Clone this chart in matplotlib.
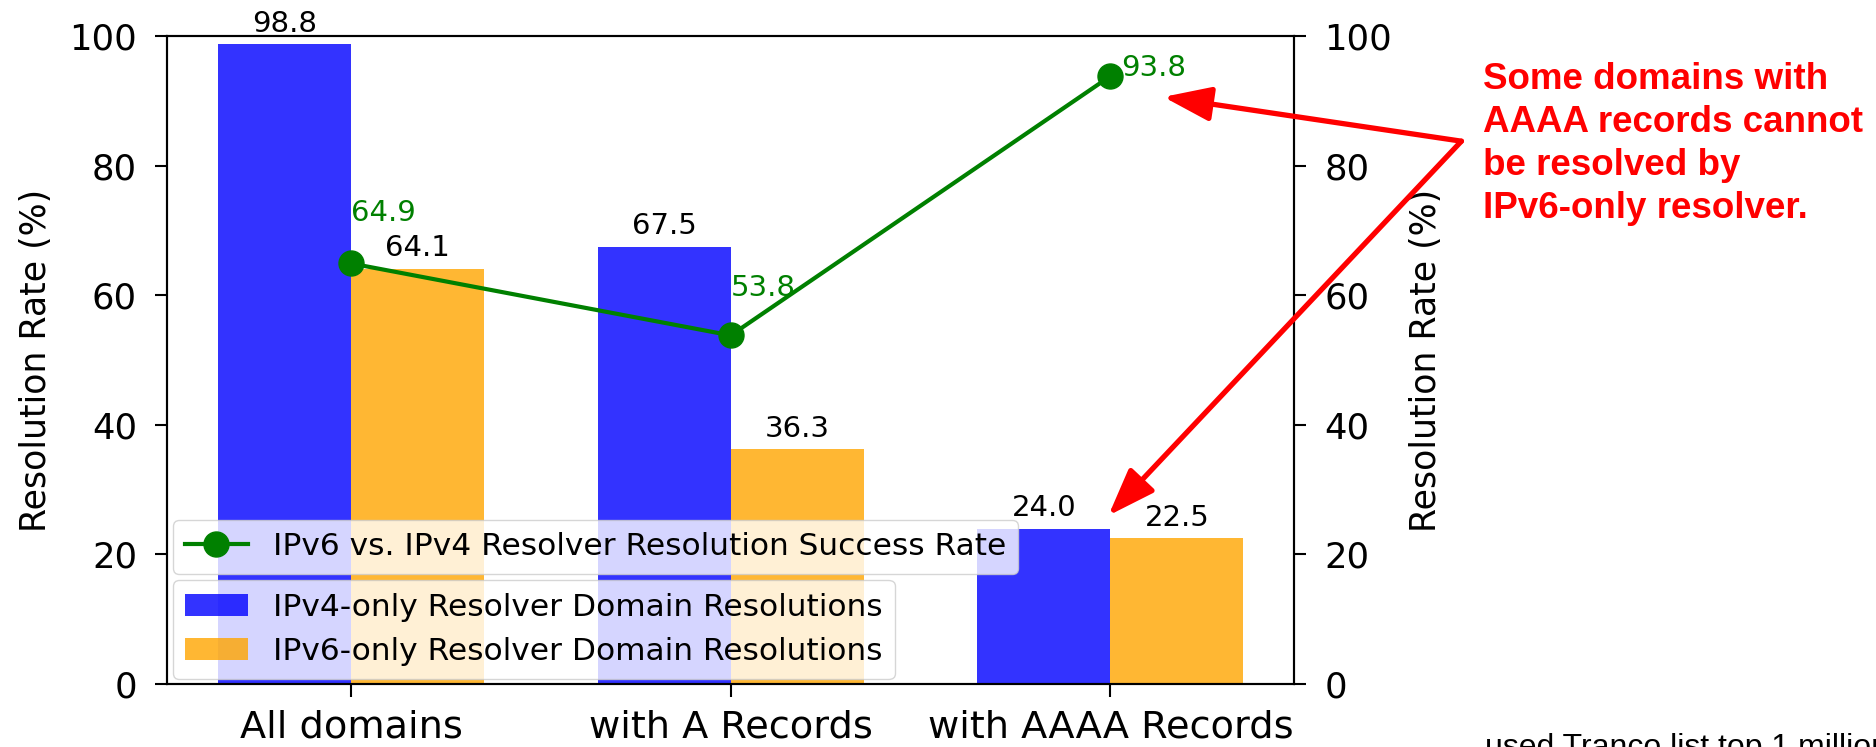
import matplotlib
matplotlib.use("Agg")
import matplotlib.pyplot as plt
import numpy as np

# values
categories = ["All domains", "with A Records", "with AAAA Records"]
ipv4_only = [98.8, 67.5, 24.0]
ipv6_only = [64.1, 36.3, 22.5]
success_rate = [64.9, 53.8, 93.8]
yticks = [0, 20, 40, 60, 80, 100]

note = "Some domains with\nAAAA records cannot\nbe resolved by\nIPv6-only resolver."
footnote = "used Tranco list top 1 million"

fig = plt.figure(figsize=(18.76, 7.47), dpi=100)
ax = fig.add_axes([0.089, 0.0843, 0.601, 0.8675])
ax2 = ax.twinx()

x = np.arange(len(categories))
w = 0.35
b1 = ax.bar(x - w / 2, ipv4_only, w, color="blue", alpha=0.8,
            label="IPv4-only Resolver Domain Resolutions")
b2 = ax.bar(x + w / 2, ipv6_only, w, color="orange", alpha=0.8,
            label="IPv6-only Resolver Domain Resolutions")
for bars in (b1, b2):
    ax.bar_label(bars, fmt="%.1f", padding=4.5, fontsize=21)

line, = ax2.plot(x, success_rate, color="green", marker="o", markersize=18,
                 linewidth=3, label="IPv6 vs. IPv4 Resolver Resolution Success Rate")
# green value labels, nudged by hand like in the original
offsets = [(0, 26), (0, 24), (8, -4)]
for xi, v, off in zip(x, success_rate, offsets):
    ax2.annotate(f"{v:.1f}", (xi, v), xytext=off, textcoords="offset points",
                 ha="left", va="bottom", color="green", fontsize=21)

for a in (ax, ax2):
    a.set_ylim(0, 100)
    a.set_yticks(yticks)
    a.tick_params(axis="y", labelsize=25.5, length=8.5, width=1.5, pad=13)
    a.set_ylabel("Resolution Rate (%)", fontsize=25, labelpad=12)
    for s in a.spines.values():
        s.set_linewidth(1.5)
ax.set_xticks(x)
ax.set_xticklabels(categories)
ax.tick_params(axis="x", labelsize=27.5, length=9, width=1.5, pad=9)

leg2 = ax.legend(loc="lower left", bbox_to_anchor=(0.005, 0.008),
                 borderaxespad=0, fontsize=22.5)
leg1 = ax2.legend(handles=[line], loc="lower left", bbox_to_anchor=(0.005, 0.17),
                  borderaxespad=0, fontsize=22.5)

# red callout on the right
fig.text(0.7905, 0.917, note, color="red", fontsize=26.5, fontweight="bold",
         family="Liberation Sans", ha="left", va="top", linespacing=1.3)
start = (0.779, 0.811)
arrow = dict(arrowstyle="-|>,head_length=2.9,head_width=1.05", color="red",
             lw=3.8, shrinkA=0, shrinkB=0, mutation_scale=10)
ax2.annotate("", xy=(2 + 0.14, success_rate[2] - 3.2), xycoords="data",
             xytext=start, textcoords="figure fraction", arrowprops=arrow,
             annotation_clip=False)
ax2.annotate("", xy=(1.995, ipv4_only[2] + 2.0), xycoords="data",
             xytext=start, textcoords="figure fraction", arrowprops=arrow,
             annotation_clip=False)

fig.text(0.7915, 0.019, footnote, fontsize=23, family="Liberation Sans",
         ha="left", va="top")

fig.savefig("out.png", dpi=100)
